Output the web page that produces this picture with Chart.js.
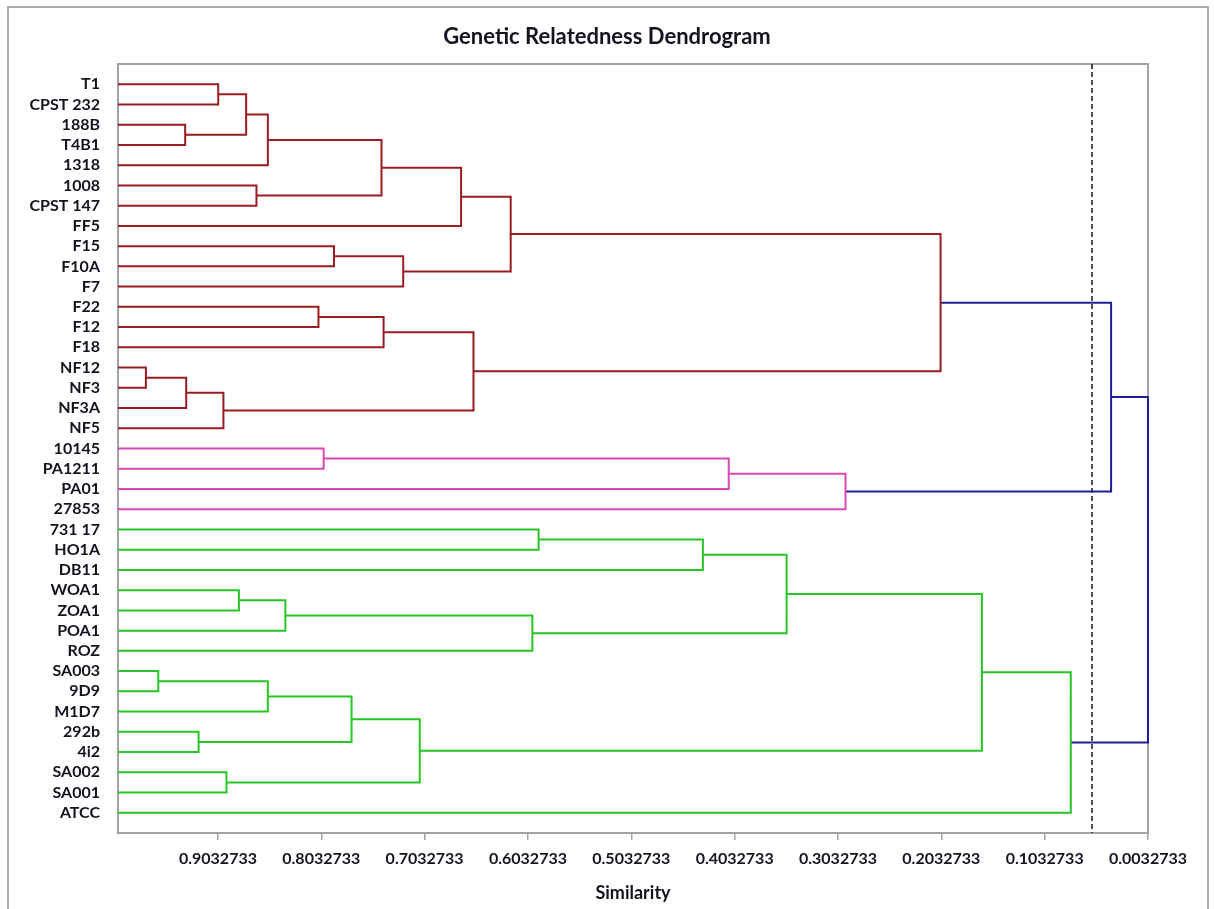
<!DOCTYPE html>
<html>
<head>
<meta charset="utf-8">
<title>Genetic Relatedness Dendrogram</title>
<script src="https://cdn.jsdelivr.net/npm/chart.js@4.4.1/dist/chart.umd.min.js"></script>
<style>
  html, body { margin: 0; padding: 0; background: #fff; }
  #wrap { position: relative; width: 1214px; height: 909px; overflow: hidden; }
  #wrap canvas { position: absolute; left: 0; top: 0; }
  #frame { position: absolute; left: 7px; top: 6px; width: 1202px; height: 940px;
           border: 2px solid #ababab; box-sizing: border-box; pointer-events: none; }
</style>
</head>
<body>
<div id="wrap">
  <canvas id="dendro" width="1214" height="909"></canvas>
  <div id="frame"></div>
</div>
<script>
// leaves, top to bottom
const leafLabels = [
    'T1', 'CPST 232', '188B', 'T4B1', '1318', '1008', 'CPST 147', 'FF5', 'F15', 'F10A',
    'F7', 'F22', 'F12', 'F18', 'NF12', 'NF3', 'NF3A', 'NF5', '10145', 'PA1211',
    'PA01', '27853', '731 17', 'HO1A', 'DB11', 'WOA1', 'ZOA1', 'POA1', 'ROZ', 'SA003',
    '9D9', 'M1D7', '292b', '4i2', 'SA002', 'SA001', 'ATCC'
];

// merges: '#k' points at merge k
const mergeLeft = [
    'T1', '188B', '#0', '#2', '1008', '#3', '#5', 'F15', '#7', '#6',
    'F22', '#10', 'NF12', '#12', '#13', '#11', '#9', '10145', '#17', '#18',
    '#16', '731 17', '#21', 'WOA1', '#23', '#24', '#22', 'SA003', '#27', '292b',
    '#28', 'SA002', '#30', '#26', '#33', '#20'
];
const mergeRight = [
    'CPST 232', 'T4B1', '#1', '1318', 'CPST 147', '#4', 'FF5', 'F10A', 'F7', '#8',
    'F12', 'F18', 'NF3', 'NF3A', 'NF5', '#14', '#15', 'PA1211', 'PA01', '27853',
    '#19', 'HO1A', 'DB11', 'ZOA1', 'POA1', 'ROZ', '#25', '9D9', 'M1D7', '4i2',
    '#29', 'SA001', '#31', '#32', 'ATCC', '#34'
];
const mergeHeight = [
    0.903, 0.935, 0.876, 0.855, 0.866, 0.745, 0.668, 0.791, 0.724, 0.620,
    0.806, 0.743, 0.973, 0.934, 0.898, 0.656, 0.204, 0.801, 0.409, 0.296,
    0.039, 0.593, 0.434, 0.883, 0.838, 0.599, 0.353, 0.961, 0.855, 0.922,
    0.774, 0.895, 0.708, 0.164, 0.078, 0.0032733
];
const mergeCluster = [
    'A', 'A', 'A', 'A', 'A', 'A', 'A', 'A', 'A', 'A',
    'A', 'A', 'A', 'A', 'A', 'A', 'A', 'B', 'B', 'B',
    'root', 'C', 'C', 'C', 'C', 'C', 'C', 'C', 'C', 'C',
    'C', 'C', 'C', 'C', 'C', 'root'
];

const tickValues = [0.9032733, 0.8032733, 0.7032733, 0.6032733, 0.5032733,
                    0.4032733, 0.3032733, 0.2032733, 0.1032733, 0.0032733];
const tickLabels = ['0.9032733', '0.8032733', '0.7032733', '0.6032733', '0.5032733',
                    '0.4032733', '0.3032733', '0.2032733', '0.1032733', '0.0032733'];
const cutHeight = 0.0575;
const simMax = 1.0;
const simMin = 0.0032733;

const clusterColors = { A: '#981c22', B: '#d948b4', C: '#26c626', root: '#1e1e98' };
const axisGray = '#a3a3a3';
const textColor = '#141420';

Chart.defaults.font.family = 'Lato';

// position each node: leaves at their row, merges at the middle of their two children
const nodeY = {};
const nodeH = {};
leafLabels.forEach((name, i) => { nodeY[name] = i; nodeH[name] = simMax; });
mergeHeight.forEach((h, k) => {
    nodeY['#' + k] = (nodeY[mergeLeft[k]] + nodeY[mergeRight[k]]) / 2;
    nodeH['#' + k] = h;
});

// one dataset per cluster colour, each merge is an open bracket, broken by nulls
const links = { A: [], B: [], C: [], root: [] };
mergeHeight.forEach((h, k) => {
    const a = mergeLeft[k], b = mergeRight[k];
    links[mergeCluster[k]].push(
        { x: nodeH[a], y: nodeY[a] },
        { x: h, y: nodeY[a] },
        { x: h, y: nodeY[b] },
        { x: nodeH[b], y: nodeY[b] },
        { x: null, y: null }
    );
});

const datasets = Object.keys(links).map(key => ({
    label: key,
    data: links[key],
    showLine: true,
    borderColor: clusterColors[key],
    borderWidth: 2,
    pointRadius: 0,
    pointHoverRadius: 0,
    tension: 0,
    spanGaps: false,
    clip: false
}));

datasets.push({
    label: 'cut',
    data: [{ x: cutHeight, y: -1 }, { x: cutHeight, y: leafLabels.length }],
    showLine: true,
    borderColor: '#1a1a1a',
    borderWidth: 1.5,
    borderDash: [5, 3],
    pointRadius: 0,
    clip: false
});

// grey frame round the plot area, drawn under the links
const plotBox = {
    id: 'plotBox',
    beforeDatasetsDraw(chart) {
        const { ctx, chartArea: a } = chart;
        ctx.save();
        ctx.strokeStyle = axisGray;
        ctx.lineWidth = 2;
        ctx.strokeRect(a.left, a.top, a.right - a.left, a.bottom - a.top);
        ctx.restore();
    }
};

new Chart(document.getElementById('dendro'), {
    type: 'scatter',
    data: { datasets },
    plugins: [plotBox],
    options: {
        responsive: false,
        animation: false,
        layout: { padding: 0 },
        plugins: {
            legend: { display: false },
            tooltip: { enabled: false },
            title: {
                display: true,
                text: 'Genetic Relatedness Dendrogram',
                color: textColor,
                font: { family: 'Lato', weight: 'bold', size: 22 },
                padding: { top: 24, bottom: 13.6 }
            }
        },
        scales: {
            x: {
                type: 'linear',
                reverse: true,
                min: simMin,
                max: simMax,
                afterBuildTicks: s => { s.ticks = tickValues.map(v => ({ value: v })); },
                afterFit: s => { s.height = 76; },
                ticks: {
                    autoSkip: false,
                    maxRotation: 0,
                    padding: 9,
                    color: textColor,
                    font: { family: 'Lato', weight: 'bold', size: 16 },
                    callback: (v, i) => tickLabels[i]
                },
                grid: { drawOnChartArea: false, drawTicks: true, tickLength: 7, color: axisGray, lineWidth: 1.5 },
                border: { display: true, color: axisGray, width: 2 },
                title: {
                    display: true,
                    text: 'Similarity',
                    color: textColor,
                    font: { family: 'Lato', weight: 'bold', size: 18 },
                    padding: { top: 0, bottom: 5 }
                }
            },
            y: {
                type: 'linear',
                reverse: true,
                min: -1,
                max: leafLabels.length,
                afterBuildTicks: s => { s.ticks = leafLabels.map((_, i) => ({ value: i })); },
                afterFit: s => { s.width = 118; },
                ticks: {
                    autoSkip: false,
                    padding: 18,
                    color: textColor,
                    font: { family: 'Lato', weight: 'bold', size: 16 },
                    callback: (v, i) => leafLabels[i]
                },
                grid: { display: false, drawTicks: false },
                border: { display: true, color: axisGray, width: 2 }
            },
            // empty right-hand margin so the title stays centred on the page
            yRight: {
                type: 'linear',
                position: 'right',
                afterFit: s => { s.width = 66; },
                ticks: { display: false },
                grid: { display: false, drawTicks: false },
                border: { display: false }
            }
        }
    }
});
</script>
</body>
</html>
